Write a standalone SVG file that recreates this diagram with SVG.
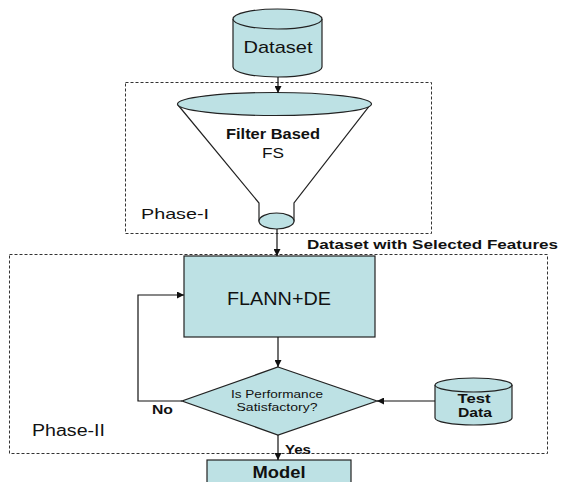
<svg xmlns="http://www.w3.org/2000/svg" width="562" height="482" viewBox="0 0 562 482">
<defs>
<style>
.sh{fill:#bde1e4;stroke:#222;stroke-width:1.2}
.ln{fill:none;stroke:#111;stroke-width:1.2}
.dash{fill:none;stroke:#333;stroke-width:1;stroke-dasharray:3,2}
text{font-family:"Liberation Sans",Arial,sans-serif;fill:#111}
.b{font-weight:bold}
</style>
<marker id="ah" viewBox="0 0 10 10" refX="10" refY="5" markerWidth="7" markerHeight="7" markerUnits="userSpaceOnUse" orient="auto">
<path d="M0,0 L10,5 L0,10 z" fill="#111"/>
</marker>
</defs>
<rect width="562" height="482" fill="#fff"/>
<g id="phase1">
<rect class="dash" x="125.5" y="82.5" width="306" height="151"/>
<text x="141" y="219" font-size="15" textLength="68" lengthAdjust="spacingAndGlyphs">Phase-I</text>
</g>
<g id="phase2">
<rect class="dash" x="9.5" y="254.5" width="538" height="199"/>
<text x="32" y="436" font-size="16" textLength="73" lengthAdjust="spacingAndGlyphs">Phase-II</text>
</g>
<g id="dataset">
<path class="sh" d="M233,19 L233,67 A44.5,10 0 0 0 322,67 L322,19"/>
<ellipse class="sh" cx="277.5" cy="19" rx="44.5" ry="10"/>
<text x="278" y="53" font-size="17" text-anchor="middle" textLength="69" lengthAdjust="spacingAndGlyphs">Dataset</text>
</g>
<g id="funnel">
<path d="M178,105 L259,203 L259,221 L294,221 L294,203 L370,105 z" fill="#fff" stroke="#222" stroke-width="1.2"/>
<ellipse class="sh" cx="274.5" cy="104" rx="97" ry="11.5"/>
<ellipse class="sh" cx="276.5" cy="221" rx="17.5" ry="8"/>
<text class="b" x="273" y="139" font-size="14" text-anchor="middle" textLength="94" lengthAdjust="spacingAndGlyphs">Filter Based</text>
<text x="273" y="158" font-size="15" text-anchor="middle" textLength="22" lengthAdjust="spacingAndGlyphs">FS</text>
</g>
<text class="b" x="307" y="249" font-size="13" textLength="251" lengthAdjust="spacingAndGlyphs">Dataset with Selected Features</text>
<g id="flann">
<rect class="sh" x="184" y="256" width="191" height="81"/>
<text x="279" y="305" font-size="19" text-anchor="middle" textLength="104" lengthAdjust="spacingAndGlyphs">FLANN+DE</text>
</g>
<g id="decision">
<path class="sh" d="M278,367 L377,401 L278,435 L182,401 z"/>
<text x="277" y="398" font-size="11" text-anchor="middle" textLength="92" lengthAdjust="spacingAndGlyphs">Is Performance</text>
<text x="277" y="411" font-size="11" text-anchor="middle" textLength="81" lengthAdjust="spacingAndGlyphs">Satisfactory?</text>
</g>
<g id="testdata">
<path class="sh" d="M435,385 L435,418 A38.5,7 0 0 0 512,418 L512,385"/>
<ellipse class="sh" cx="473.5" cy="385" rx="38.5" ry="7"/>
<text class="b" x="474" y="403" font-size="13" text-anchor="middle" textLength="33" lengthAdjust="spacingAndGlyphs">Test</text>
<text class="b" x="475" y="417" font-size="13" text-anchor="middle" textLength="34" lengthAdjust="spacingAndGlyphs">Data</text>
</g>
<g id="model">
<rect class="sh" x="207" y="460" width="144" height="30"/>
<text class="b" x="279" y="478" font-size="17" text-anchor="middle" textLength="53" lengthAdjust="spacingAndGlyphs">Model</text>
</g>
<g id="connectors">
<line class="ln" x1="278" y1="77" x2="278" y2="93" marker-end="url(#ah)"/>
<line class="ln" x1="277" y1="229" x2="277" y2="256" marker-end="url(#ah)"/>
<line class="ln" x1="278" y1="337" x2="278" y2="367" marker-end="url(#ah)"/>
<polyline class="ln" points="182,401 138,401 138,295 184,295" marker-end="url(#ah)"/>
<line class="ln" x1="435" y1="401" x2="377" y2="401" marker-end="url(#ah)"/>
<line class="ln" x1="278" y1="435" x2="278" y2="460" marker-end="url(#ah)"/>
<text class="b" x="152" y="414" font-size="12" textLength="21" lengthAdjust="spacingAndGlyphs">No</text>
<text class="b" x="285" y="454" font-size="13" textLength="26" lengthAdjust="spacingAndGlyphs">Yes</text>
</g>
</svg>
